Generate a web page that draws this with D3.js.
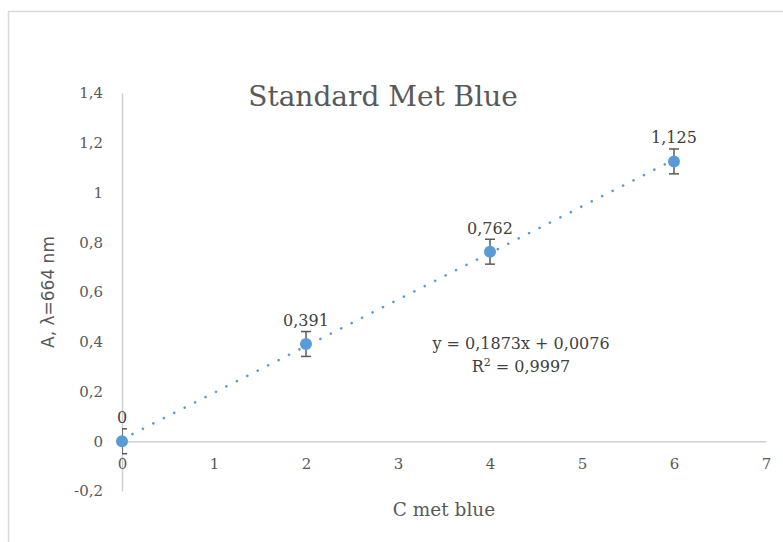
<!DOCTYPE html>
<html>
<head>
<meta charset="utf-8">
<script src="https://cdn.jsdelivr.net/npm/d3@7"></script>
<style>
  html, body { margin: 0; padding: 0; background: #fff; }
  svg { display: block; }
</style>
</head>
<body>
<script>
const concentrations = [0, 2, 4, 6];
const absorbances = [0, 0.391, 0.762, 1.125];
const errors = [0.05, 0.05, 0.05, 0.05];
const dataLabels = ["0", "0,391", "0,762", "1,125"];
const xTicks = [0, 1, 2, 3, 4, 5, 6, 7];
const yTicks = [-0.2, 0, 0.2, 0.4, 0.6, 0.8, 1, 1.2, 1.4];
const yTickLabels = ["-0,2", "0", "0,2", "0,4", "0,6", "0,8", "1", "1,2", "1,4"];
const trendSlope = 0.1873;
const trendIntercept = 0.0076;
const equationText = "y = 0,1873x + 0,0076";
const r2Value = "0,9997";
const titleText = "Standard Met Blue";
const xTitle = "C met blue";
const yTitle = "A, λ=664 nm";

const W = 783, H = 542;
const svg = d3.select("body").append("svg").attr("width", W).attr("height", H);
const serif = "'DejaVu Serif', 'Liberation Serif', serif";
const sans = "'DejaVu Sans', 'Liberation Sans', Arial, sans-serif";
const textColor = "#595959";
const blue = "#5B9BD5";

// chart border
svg.append("rect").attr("x", 8.5).attr("y", 11.5).attr("width", 800).attr("height", 600)
  .attr("fill", "none").attr("stroke", "#d9d9d9").attr("stroke-width", 1.5);

const x = d3.scaleLinear().domain([0, 7]).range([122, 766]);
const y = d3.scaleLinear().domain([-0.2, 1.4]).range([491, 93]);

svg.append("defs").append("clipPath").attr("id", "plot")
  .append("rect").attr("x", x(0)).attr("y", y(1.4)).attr("width", x(7) - x(0)).attr("height", y(-0.2) - y(1.4));

// y axis
const yAxis = d3.axisLeft(y).tickValues(yTicks).tickSize(0).tickPadding(19)
  .tickFormat((d, i) => yTickLabels[i]);
const gy = svg.append("g").attr("transform", `translate(${x(0)},0)`).call(yAxis);
gy.select(".domain").attr("stroke", "#d0d0d0").attr("stroke-width", 1.5);
gy.selectAll("text").attr("font-family", serif).attr("font-size", 15).attr("fill", textColor);

// x axis at y=0
const xAxis = d3.axisBottom(x).tickValues(xTicks).tickSize(0).tickPadding(17)
  .tickFormat(d3.format("d"));
const gx = svg.append("g").attr("transform", `translate(0,${y(0)})`).call(xAxis);
gx.select(".domain").attr("stroke", "#d0d0d0").attr("stroke-width", 1.5);
gx.selectAll("text").attr("font-family", serif).attr("font-size", 15).attr("fill", textColor);

// trendline
const trendXs = [concentrations[0], concentrations[concentrations.length - 1]];
svg.append("line")
  .attr("x1", x(trendXs[0])).attr("y1", y(trendSlope * trendXs[0] + trendIntercept))
  .attr("x2", x(trendXs[1])).attr("y2", y(trendSlope * trendXs[1] + trendIntercept))
  .attr("stroke", blue).attr("stroke-width", 2.6)
  .attr("stroke-dasharray", "0.1,11.6").attr("stroke-linecap", "round");

// error bars
const eb = svg.append("g").attr("clip-path", "url(#plot)");
concentrations.forEach((c, i) => {
  const cx = x(c), top = y(absorbances[i] + errors[i]), bot = y(absorbances[i] - errors[i]);
  eb.append("line").attr("x1", cx).attr("x2", cx).attr("y1", top).attr("y2", bot)
    .attr("stroke", "#595959").attr("stroke-width", 1.5);
  [top, bot].forEach(yy => eb.append("line").attr("x1", cx - 5).attr("x2", cx + 5)
    .attr("y1", yy).attr("y2", yy).attr("stroke", "#595959").attr("stroke-width", 1.5));
});

// markers
svg.append("g").selectAll("circle").data(concentrations).join("circle")
  .attr("cx", d => x(d)).attr("cy", (d, i) => y(absorbances[i])).attr("r", 6)
  .attr("fill", blue);

// data labels
svg.append("g").selectAll("text").data(concentrations).join("text")
  .attr("x", d => x(d)).attr("y", (d, i) => y(absorbances[i]) - 18)
  .attr("text-anchor", "middle").attr("font-family", serif).attr("font-size", 16)
  .attr("fill", "#404040").text((d, i) => dataLabels[i]);

// equation
const eq = svg.append("text").attr("x", 521).attr("y", 349).attr("text-anchor", "middle")
  .attr("font-family", serif).attr("font-size", 16).attr("fill", "#404040");
eq.text(equationText);
const r2 = svg.append("text").attr("x", 521).attr("y", 372).attr("text-anchor", "middle")
  .attr("font-family", serif).attr("font-size", 16).attr("fill", "#404040");
r2.append("tspan").text("R");
r2.append("tspan").attr("dy", -6).attr("font-size", 11).text("2");
r2.append("tspan").attr("dy", 6).text(" = " + r2Value);

// title
svg.append("text").attr("x", 383).attr("y", 106).attr("text-anchor", "middle")
  .attr("font-family", serif).attr("font-size", 28).attr("fill", textColor).text(titleText);

// axis titles
svg.append("text").attr("x", 444).attr("y", 516).attr("text-anchor", "middle")
  .attr("font-family", serif).attr("font-size", 18.5).attr("fill", textColor).text(xTitle);
svg.append("text").attr("transform", `translate(54,${y(0.6)}) rotate(-90)`)
  .attr("text-anchor", "middle").attr("font-family", sans).attr("font-size", 17)
  .attr("fill", textColor).text(yTitle);
</script>
</body>
</html>
